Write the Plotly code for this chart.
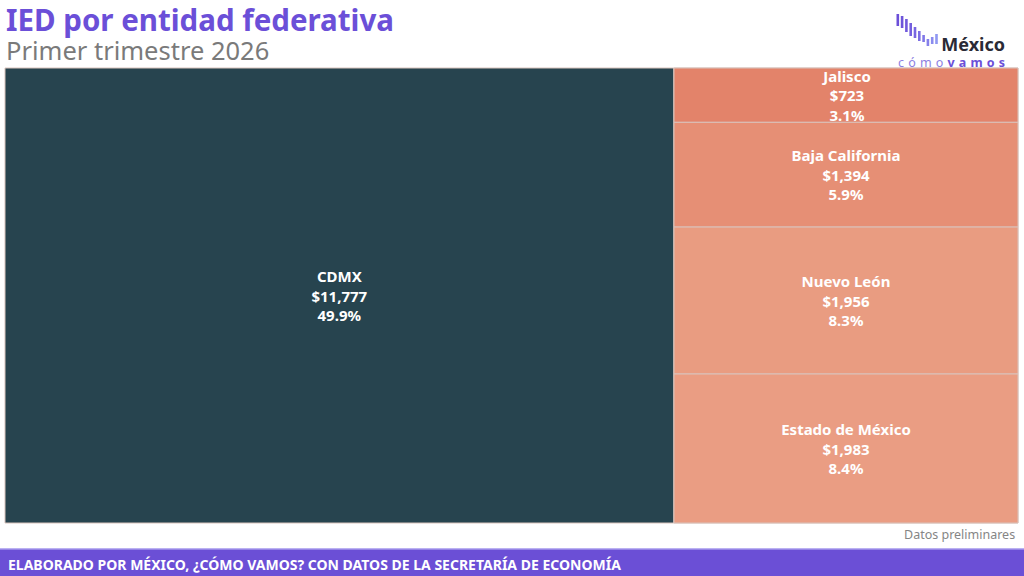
import plotly.graph_objects as go

# ---------------- data ----------------
entidades = ["CDMX", "Jalisco", "Baja California", "Nuevo León", "Estado de México"]
ied_mdd = [11777, 723, 1394, 1956, 1983]          # millones de dólares
participacion = ["49.9%", "3.1%", "5.9%", "8.3%", "8.4%"]
colores = ["#27444F", "#E3836A", "#E68F75", "#E99C81", "#EA9D83"]
grupo_resto = "Resto"

title = "IED por entidad federativa"
subtitle = "Primer trimestre 2026"
nota = "Datos preliminares"
fuente = "ELABORADO POR MÉXICO, ¿CÓMO VAMOS? CON DATOS DE LA SECRETARÍA DE ECONOMÍA"

FONT = "Noto Sans"
PURPLE = "#6B4FD8"

# hierarchy: CDMX on its own, the rest grouped in a column
labels, parents, values, texts, cols = [], [], [], [], []
labels.append(entidades[0]); parents.append(""); values.append(ied_mdd[0])
texts.append(f"<b>{entidades[0]}<br>${ied_mdd[0]:,}<br>{participacion[0]}</b>")
cols.append(colores[0])
labels.append(grupo_resto); parents.append(""); values.append(0)
texts.append(""); cols.append(colores[-1])
for e, v, p, c in zip(entidades[1:], ied_mdd[1:], participacion[1:], colores[1:]):
    labels.append(e); parents.append(grupo_resto); values.append(v)
    texts.append(f"<b>{e}<br>${v:,}<br>{p}</b>")
    cols.append(c)

fig = go.Figure(go.Treemap(
    labels=labels,
    parents=parents,
    values=values,
    branchvalues="remainder",
    text=texts,
    textinfo="text",
    textposition="middle center",
    textfont=dict(family=FONT, size=15, color="white"),
    marker=dict(colors=cols, line=dict(color="#D9C3BC", width=1),
                pad=dict(t=0, l=0, r=0, b=0)),
    tiling=dict(packing="slice-dice", pad=0),
    sort=False,
    pathbar=dict(visible=False),
    root=dict(color="rgba(0,0,0,0)"),
    hoverinfo="skip",
    domain=dict(x=[5 / 1024, 1018 / 1024], y=[53 / 576, 508 / 576]),
))

W, H = 1024, 576

def px(x):
    return x / W

def py(y):
    return 1 - y / H

esp = "\u2004"
logo_txt = ("<span style='font-size:18px;color:#2A2A35'><b>México</b></span><br>"
            f"<span style='color:#8C7FE2'>{esp.join('cómo')}</span>{esp}"
            f"<b><span style='color:{PURPLE}'>{esp.join('vamos')}</span></b>")

head_txt = (f"<span style='font-size:29.5px;color:{PURPLE}'><b>{title}</b></span><br>"
            f"<span style='font-size:25.5px;color:#7A7A7A'>{subtitle}</span>")

annotations = [
    dict(text=head_txt, x=px(4), y=py(33), xanchor="left", yanchor="middle",
         align="left", font=dict(family=FONT, size=22.5)),
    dict(text=nota, x=px(1017), y=py(534), xanchor="right", yanchor="middle",
         font=dict(family=FONT, size=12.5, color="#858585")),
    dict(text=f"<b>{fuente}</b>", x=px(6), y=py(564), xanchor="left", yanchor="middle",
         font=dict(family=FONT, size=14, color="white")),
    dict(text=logo_txt, x=px(1007), y=py(51.5), xanchor="right", yanchor="middle",
         align="right", font=dict(family=FONT, size=12.5)),
]
for a in annotations:
    a.update(xref="paper", yref="paper", showarrow=False)

shapes = [
    dict(type="rect", xref="paper", yref="paper", x0=0, x1=1, y0=0, y1=py(549),
         fillcolor="#6B4FD6", line=dict(width=0), layer="below"),
    dict(type="line", xref="paper", yref="paper", x0=0, x1=1, y0=py(549), y1=py(549),
         line=dict(color="#A597EC", width=1.5)),
]
# logo bars (decorative)
bar_tops = [14, 16, 19, 23, 27, 31, 35, 39, 37, 34]
bar_bots = [26, 28, 32, 36, 38, 41, 42, 46, 44, 44]
bar_cols = ["#6B4FD8", "#6E55DA", "#7159DC", "#745FDE", "#7866E1",
            "#7C6EE4", "#8077E7", "#8580EA", "#8A8BEE", "#8F97F2"]
for i, (t, b, c) in enumerate(zip(bar_tops, bar_bots, bar_cols)):
    x0 = 896.5 + i * 4.3
    shapes.append(dict(type="rect", xref="paper", yref="paper",
                       x0=px(x0), x1=px(x0 + 2.6), y0=py(b), y1=py(t),
                       fillcolor=c, line=dict(width=0)))

fig.update_layout(
    width=W, height=H,
    margin=dict(l=0, r=0, t=0, b=0),
    paper_bgcolor="white",
    font=dict(family=FONT),
    uniformtext=dict(minsize=15, mode="show"),
    annotations=annotations,
    shapes=shapes,
    showlegend=False,
)

fig.write_html("out.html")
